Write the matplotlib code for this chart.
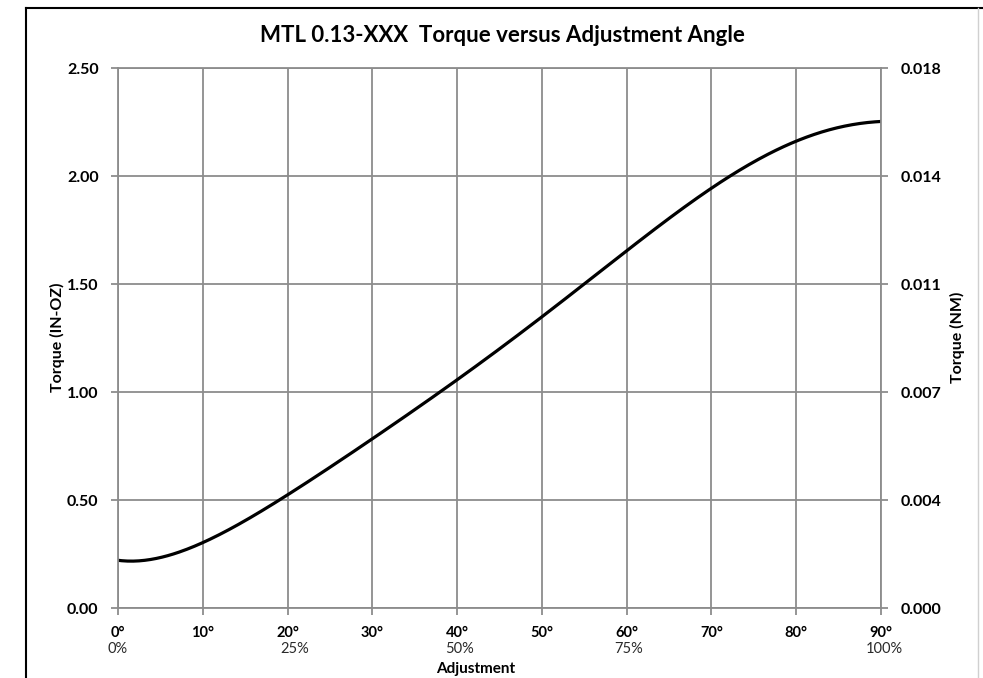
import numpy as np
import matplotlib
matplotlib.use("Agg")
import matplotlib.pyplot as plt
from matplotlib.lines import Line2D
from matplotlib.ticker import FormatStrFormatter

plt.rcParams['font.family'] = ['Lato', 'DejaVu Sans']

# data
angle_deg = [0, 2, 5, 10, 15, 20, 25, 30, 35, 40, 45, 50, 55, 60, 65, 70, 75, 80, 85, 90]
torque_inoz = [0.222, 0.215, 0.235, 0.302, 0.406, 0.523, 0.650, 0.786, 0.918, 1.052,
               1.202, 1.351, 1.499, 1.653, 1.802, 1.945, 2.065, 2.163, 2.223, 2.253]
x_ticks = [0, 10, 20, 30, 40, 50, 60, 70, 80, 90]
y_ticks = [0.0, 0.5, 1.0, 1.5, 2.0, 2.5]
pct_labels = ['0%', '25%', '50%', '75%', '100%']
pct_pos = [0, 20.8, 40.3, 60.2, 90.4]
INOZ_TO_NM = 0.00706155

# smooth curve through the read points
xs = np.linspace(0, 90, 400)
cs = np.polyfit(angle_deg, torque_inoz, 7)
ys = np.polyval(cs, xs)

fig = plt.figure(figsize=(9.83, 6.78), dpi=100)
ax = fig.add_axes([118/983, 1 - 608/678, (881 - 118)/983, (608 - 68)/678])

grid_col = '#8c8c8c'
ax.plot(xs, ys, color='black', lw=2.3, solid_capstyle='round')

ax.set_xlim(0, 90)
ax.set_ylim(0, 2.5)
ax.set_xticks(x_ticks)
ax.set_xticklabels([f"{t}°" for t in x_ticks])
ax.set_yticks(y_ticks)
ax.yaxis.set_major_formatter(FormatStrFormatter('%.2f'))
ax.grid(True, color=grid_col, lw=1.3)
ax.set_axisbelow(True)
for s in ax.spines.values():
    s.set_color(grid_col)
    s.set_linewidth(1.3)
ax.tick_params(axis='both', colors=grid_col, length=5, width=1.3, labelcolor='black')
ax.tick_params(axis='y', pad=9, labelsize=11.5)
ax.tick_params(axis='x', pad=8, labelsize=10.5)
for lab in ax.get_xticklabels() + ax.get_yticklabels():
    lab.set_fontweight('bold')

# right axis in NM
ax2 = ax.twinx()
ax2.set_ylim(0, 2.5 * INOZ_TO_NM)
ax2.set_yticks([v * INOZ_TO_NM for v in y_ticks])
ax2.yaxis.set_major_formatter(FormatStrFormatter('%.3f'))
ax2.tick_params(axis='y', colors=grid_col, length=5, width=1.3, labelsize=11.5,
                labelcolor='black', pad=9)
for lab in ax2.get_yticklabels():
    lab.set_fontweight('bold')
for s in ax2.spines.values():
    s.set_visible(False)

# percentage row under the degree ticks
for lab, xp in zip(pct_labels, pct_pos):
    ax.text(xp, -(649 - 608) / 540, lab, transform=ax.get_xaxis_transform(),
            ha='center', va='center', fontsize=10.5, color='#2a2a2a')

fig.text(476/983, 1 - 669/678, 'Adjustment', ha='center', va='center',
         fontsize=11, fontweight='bold')
fig.text(57/983, 1 - 337/678, 'Torque (IN-OZ)', rotation=90, ha='center', va='center',
         fontsize=11.5, fontweight='bold')
fig.text(957/983, 1 - 337/678, 'Torque (NM)', rotation=90, ha='center', va='center',
         fontsize=11.5, fontweight='bold')
fig.text(502/983, 1 - 36/678, 'MTL 0.13-XXX  Torque versus Adjustment Angle',
         ha='center', va='center', fontsize=16, fontweight='bold')

# outer chart frame
fig.add_artist(Line2D([26/983, 26/983], [-0.01, 1 - 8/678], color='black', lw=1.5,
                      transform=fig.transFigure))
fig.add_artist(Line2D([26/983, 1.0], [1 - 8/678, 1 - 8/678], color='black', lw=1.5,
                      transform=fig.transFigure))
fig.add_artist(Line2D([978/983, 978/983], [-0.01, 1 - 8/678], color='#d0d0d0', lw=1.0,
                      transform=fig.transFigure))

fig.savefig('out.png', dpi=100)
